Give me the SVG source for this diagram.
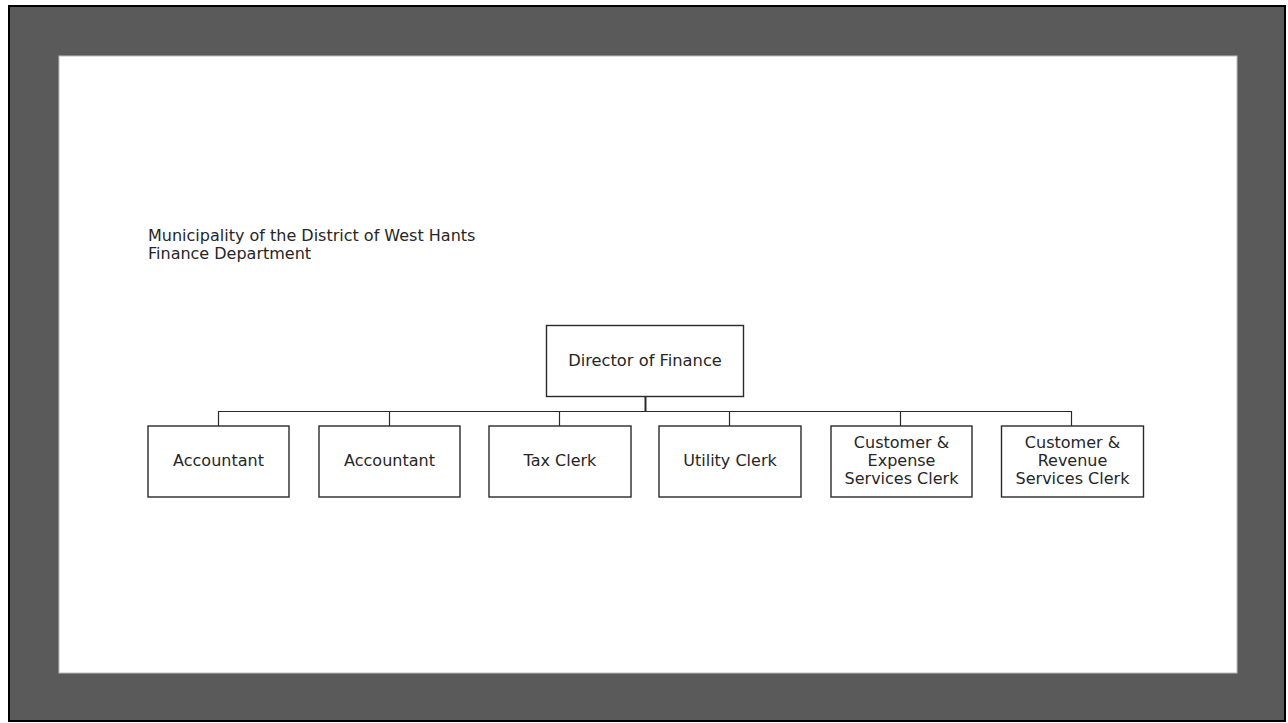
<svg xmlns="http://www.w3.org/2000/svg" width="1288" height="723" viewBox="0 0 1288 723">
  <style>
    .lbl { font-family: "DejaVu Sans", Verdana, sans-serif; font-size: 16px; fill: #262626; text-anchor: middle; }
    .title { font-family: "DejaVu Sans", Verdana, sans-serif; font-size: 16px; fill: #262626; }
    .box { fill: #ffffff; stroke: #2a2a2a; stroke-width: 1.4; }
    .wire { fill: none; stroke: #2a2a2a; stroke-width: 1.2; }
  </style>

  <!-- page frame -->
  <rect x="0" y="0" width="1288" height="723" fill="#ffffff"/>
  <rect x="9" y="6" width="1276" height="715" fill="#5a5a5a" stroke="#000000" stroke-width="2"/>
  <rect x="59" y="56" width="1178" height="617" fill="#ffffff" stroke="#bdbdbd" stroke-width="1"/>

  <!-- heading -->
  <text class="title" x="148" y="241">Municipality of the District of West Hants</text>
  <text class="title" x="148" y="259">Finance Department</text>

  <!-- connectors -->
  <g id="connectors">
    <line x1="645.5" y1="396" x2="645.5" y2="411.5" stroke="#2a2a2a" stroke-width="2"/>
    <path class="wire" d="M218.5 426 V411.5 H1071.5 V426"/>
    <path class="wire" d="M389.5 411.5 V426"/>
    <path class="wire" d="M559.5 411.5 V426"/>
    <path class="wire" d="M729.5 411.5 V426"/>
    <path class="wire" d="M900.5 411.5 V426"/>
  </g>

  <g id="director">
    <rect class="box" x="546.5" y="325.5" width="197" height="71"/>
    <text class="lbl" x="645" y="366" style="font-size:16.3px">Director of Finance</text>
  </g>

  <g id="accountant-1">
    <rect class="box" x="148" y="426" width="141" height="71"/>
    <text class="lbl" x="218.5" y="466">Accountant</text>
  </g>

  <g id="accountant-2">
    <rect class="box" x="319" y="426" width="141" height="71"/>
    <text class="lbl" x="389.5" y="466">Accountant</text>
  </g>

  <g id="tax-clerk">
    <rect class="box" x="489" y="426" width="142" height="71"/>
    <text class="lbl" x="560" y="466">Tax Clerk</text>
  </g>

  <g id="utility-clerk">
    <rect class="box" x="659" y="426" width="142" height="71"/>
    <text class="lbl" x="730" y="466">Utility Clerk</text>
  </g>

  <g id="expense-clerk">
    <rect class="box" x="831" y="426" width="141" height="71"/>
    <text class="lbl" x="901.5" y="448">Customer &amp;</text>
    <text class="lbl" x="901.5" y="466">Expense</text>
    <text class="lbl" x="901.5" y="484">Services Clerk</text>
  </g>

  <g id="revenue-clerk">
    <rect class="box" x="1001.5" y="426" width="142" height="71"/>
    <text class="lbl" x="1072.5" y="448">Customer &amp;</text>
    <text class="lbl" x="1072.5" y="466">Revenue</text>
    <text class="lbl" x="1072.5" y="484">Services Clerk</text>
  </g>
</svg>
